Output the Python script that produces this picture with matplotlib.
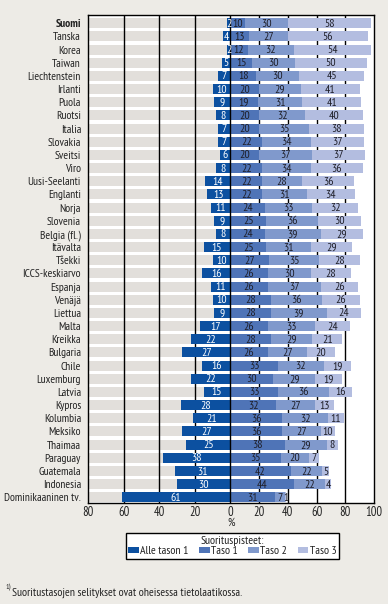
import matplotlib
matplotlib.use("Agg")
import matplotlib.pyplot as plt
from matplotlib.patches import Patch
import numpy as np

countries = ["Suomi", "Tanska", "Korea", "Taiwan", "Liechtenstein", "Irlanti", "Puola",
             "Ruotsi", "Italia", "Slovakia", "Sveitsi", "Viro", "Uusi-Seelanti", "Englanti",
             "Norja", "Slovenia", "Belgia (fl.)", "Itävalta", "Tšekki", "ICCS-keskiarvo",
             "Espanja", "Venäjä", "Liettua", "Malta", "Kreikka", "Bulgaria", "Chile",
             "Luxemburg", "Latvia", "Kypros", "Kolumbia", "Meksiko", "Thaimaa", "Paraguay",
             "Guatemala", "Indonesia", "Dominikaaninen tv."]
alle1 = [2, 4, 2, 5, 7, 10, 9, 8, 7, 7, 6, 8, 14, 13, 11, 9, 8, 15, 10, 16, 11, 10, 9, 17,
         22, 27, 16, 22, 15, 28, 21, 27, 25, 38, 31, 30, 61]
taso1 = [10, 13, 12, 15, 18, 20, 19, 20, 20, 22, 20, 22, 22, 22, 24, 25, 24, 25, 27, 26, 26,
         28, 28, 26, 28, 26, 33, 30, 33, 32, 36, 36, 38, 35, 42, 44, 31]
taso2 = [30, 27, 32, 30, 30, 29, 31, 32, 35, 34, 37, 34, 28, 31, 33, 36, 39, 31, 35, 30, 37,
         36, 39, 33, 29, 27, 32, 29, 36, 27, 32, 27, 29, 20, 22, 22, 7]
taso3 = [58, 56, 54, 50, 45, 41, 41, 40, 38, 37, 37, 36, 36, 34, 32, 30, 29, 29, 28, 28, 26,
         26, 24, 24, 21, 20, 19, 19, 16, 13, 11, 10, 8, 7, 5, 4, 1]
series_names = ["Alle tason 1", "Taso 1", "Taso 2", "Taso 3"]
colors = ["#0c50a0", "#4f74b7", "#8099cc", "#b3bde0"]
xticks = [-80, -60, -40, -20, 0, 20, 40, 60, 80, 100]

plt.rcParams['font.family'] = ['PT Sans Narrow', 'DejaVu Sans']

bg = "#edebe6"
txtcol = "#222222"
k = 1.24  # left half is drawn with a wider scale than the right half

def fwd(x):
    x = np.asarray(x, dtype=float)
    return np.where(x < 0, x * k, x)

def inv(x):
    x = np.asarray(x, dtype=float)
    return np.where(x < 0, x / k, x)

fig = plt.figure(figsize=(3.88, 6.04), dpi=100, facecolor=bg)
ax = fig.add_axes([0.2268, 0.1667, 0.7371, 0.808])
ax.set_xscale('function', functions=(fwd, inv))
ax.set_facecolor("white")

n = len(countries)
y = np.arange(n)
h = 0.76

# grey background on the left half
ax.barh(y, [80] * n, left=-80, height=h, color="#e2dfdb", zorder=1)
for g in [-60, -40, -20]:
    ax.axvline(g, color="black", lw=1, zorder=2)
for g in [20, 40, 60, 80]:
    ax.axvline(g, color="black", lw=1, zorder=0.5)

a1 = np.array(alle1)
ax.barh(y, -a1, height=h, color=colors[0], zorder=3)
left = np.zeros(n)
for vals, c in zip([taso1, taso2, taso3], colors[1:]):
    v = np.array(vals)
    ax.barh(y, v, left=left, height=h, color=c, zorder=3)
    for yi, (l, w) in enumerate(zip(left, v)):
        ax.text(l + w / 2, yi + 0.04, str(w), ha="center", va="center", fontsize=8.5,
                color="#1e1e28", zorder=5)
    left = left + v
for yi, w in enumerate(a1):
    ax.text(-w / 2, yi + 0.04, str(w), ha="center", va="center", fontsize=8.5,
            color="white", zorder=5)
ax.axvline(0, color="black", lw=1, zorder=4)

ax.set_xlim(-80, 100)
ax.set_ylim(n - 1 + 0.456, -0.607)
ax.set_yticks(y)
ax.set_yticklabels(countries, fontsize=8.3, color=txtcol)
ax.get_yticklabels()[0].set_fontweight("bold")
ax.set_xticks(xticks)
ax.set_xticklabels([str(abs(t)) for t in xticks], fontsize=9, color=txtcol)
ax.tick_params(length=0, pad=5)
ax.tick_params(axis="x", pad=2)
ax.set_xlabel("%", fontsize=8.5, labelpad=-1, color=txtcol)
for s in ax.spines.values():
    s.set_color("black")
    s.set_linewidth(1)
    s.set_zorder(6)

handles = [Patch(facecolor=c, label=s) for c, s in zip(colors, series_names)]
leg = fig.legend(handles=handles, loc="center", bbox_to_anchor=(0.599, 0.096), ncol=4,
                 title="Suorituspisteet:", fontsize=8.5, title_fontsize=8.5,
                 frameon=True, fancybox=False, edgecolor="black", facecolor="white",
                 handlelength=0.9, handleheight=0.45, handletextpad=0.1, columnspacing=0.9,
                 borderpad=0.2, labelspacing=0.05, framealpha=1)
leg.get_frame().set_linewidth(1)
for t in leg.get_texts():
    t.set_color(txtcol)
leg.get_title().set_color(txtcol)

fig.text(0.013, 0.0205, "1)", fontsize=5.5, color=txtcol, va="bottom")
fig.text(0.031, 0.0105, "Suoritustasojen selitykset ovat oheisessa tietolaatikossa.",
         fontsize=8.5, color=txtcol, va="bottom")

fig.savefig("out.png", dpi=100, facecolor=bg)
